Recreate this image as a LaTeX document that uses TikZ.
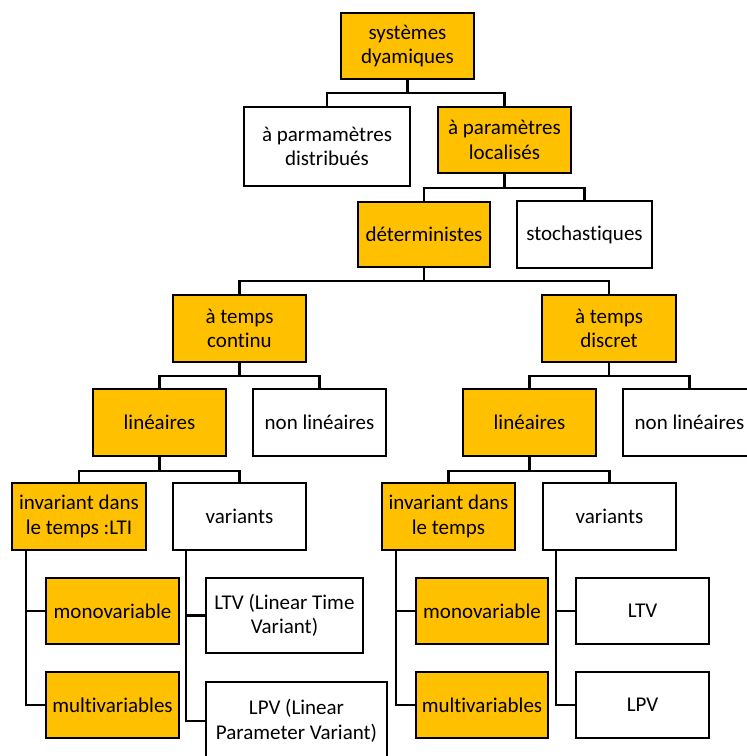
\documentclass[tikz,border=0pt]{standalone}
\usepackage{fontspec}
\setmainfont{Carlito}[Ligatures={NoCommon}]
\definecolor{gold}{HTML}{FFC000}
\tikzset{
  box/.style={draw=black, line width=2.6pt, inner sep=0pt, align=center,
    font=\fontsize{21}{24.5}\selectfont, text=black},
  yel/.style={box, fill=gold},
  wht/.style={box, fill=white},
  link/.style={draw=black, line width=2.6pt},
}
\newcommand{\bx}[6]{% name, style, cx, cy, w, h
  \node[#2, minimum width=#5pt, minimum height=#6pt] (#1) at (#3,#4)}
\begin{document}
\begin{tikzpicture}[x=1pt,y=-1pt]
\useasboundingbox (0,0) rectangle (747,756);
\clip (0,0) rectangle (747,756);
\bx{root}{yel}{407.5}{46}{133}{66} {systèmes\\dyamiques};
\bx{distrib}{wht}{327}{146.5}{166}{79} {à parmamètres\\distribués};
\bx{local}{yel}{504.5}{140}{133}{66} {à paramètres\\localisés};
\bx{determ}{yel}{424}{234.5}{132}{65} {déterministes};
\bx{stoch}{wht}{584.5}{234.5}{135}{67} {stochastiques};
\bx{tcont}{yel}{239.5}{328.5}{133}{67} {à temps\\continu};
\bx{tdisc}{yel}{609}{328.5}{134}{67} {à temps\\discret};
\bx{linA}{yel}{159.5}{422.5}{133}{67} {linéaires};
\bx{nonlinA}{wht}{319.5}{422.5}{133}{67} {non linéaires};
\bx{linB}{yel}{529.5}{422.5}{133}{67} {linéaires};
\bx{nonlinB}{wht}{689.5}{422.5}{133}{67} {non linéaires};
\bx{ltiA}{yel}{79}{516.5}{134}{67} {invariant dans\\le temps :LTI};
\bx{varA}{wht}{239.5}{516.5}{133}{67} {variants};
\bx{monoA}{yel}{112.5}{611}{133}{66} {monovariable};
\bx{multiA}{yel}{112.5}{705}{133}{66} {multivariables};
\bx{ltvA}{wht}{284.5}{615.5}{157}{75} {LTV (Linear Time\\Variant)};
\bx{lpvA}{wht}{296.5}{721}{181}{78} {LPV (Linear\\Parameter Variant)};
\bx{ltiB}{yel}{448.5}{516.5}{133}{67} {invariant dans\\le temps};
\bx{varB}{wht}{609.5}{516.5}{133}{67} {variants};
\bx{monoB}{yel}{482}{611}{132}{66} {monovariable};
\bx{multiB}{yel}{482}{705}{132}{66} {multivariables};
\bx{ltvB}{wht}{642.5}{611}{133}{66} {LTV};
\bx{lpvB}{wht}{642.5}{705}{133}{66} {LPV};
% tree connectors
\draw[link] (root.south) -- (root.south |- 0,93) -| (distrib.north);
\draw[link] (root.south |- 0,93) -| (local.north);
\draw[link] (local.south) -- (local.south |- 0,188) -| (determ.north);
\draw[link] (local.south |- 0,188) -| (stoch.north);
\draw[link] (determ.south) -- (determ.south |- 0,281) -| (tcont.north);
\draw[link] (determ.south |- 0,281) -| (tdisc.north);
\draw[link] (tcont.south) -- (tcont.south |- 0,376) -| (linA.north);
\draw[link] (tcont.south |- 0,376) -| (nonlinA.north);
\draw[link] (tdisc.south) -- (tdisc.south |- 0,376) -| (linB.north);
\draw[link] (tdisc.south |- 0,376) -| (nonlinB.north);
\draw[link] (linA.south) -- (linA.south |- 0,471) -| (ltiA.north);
\draw[link] (linA.south |- 0,471) -| (varA.north);
\draw[link] (linB.south) -- (linB.south |- 0,471) -| (ltiB.north);
\draw[link] (linB.south |- 0,471) -| (varB.north);
% side connectors
\draw[link] (ltiA.south -| 26,0) |- (monoA.west);
\draw[link] (ltiA.south -| 26,0) |- (multiA.west);
\draw[link] (varA.south -| 186,0) |- (ltvA.west);
\draw[link] (varA.south -| 186,0) |- (lpvA.west);
\draw[link] (ltiB.south -| 396,0) |- (monoB.west);
\draw[link] (ltiB.south -| 396,0) |- (multiB.west);
\draw[link] (varB.south -| 556,0) |- (ltvB.west);
\draw[link] (varB.south -| 556,0) |- (lpvB.west);
\end{tikzpicture}
\end{document}
